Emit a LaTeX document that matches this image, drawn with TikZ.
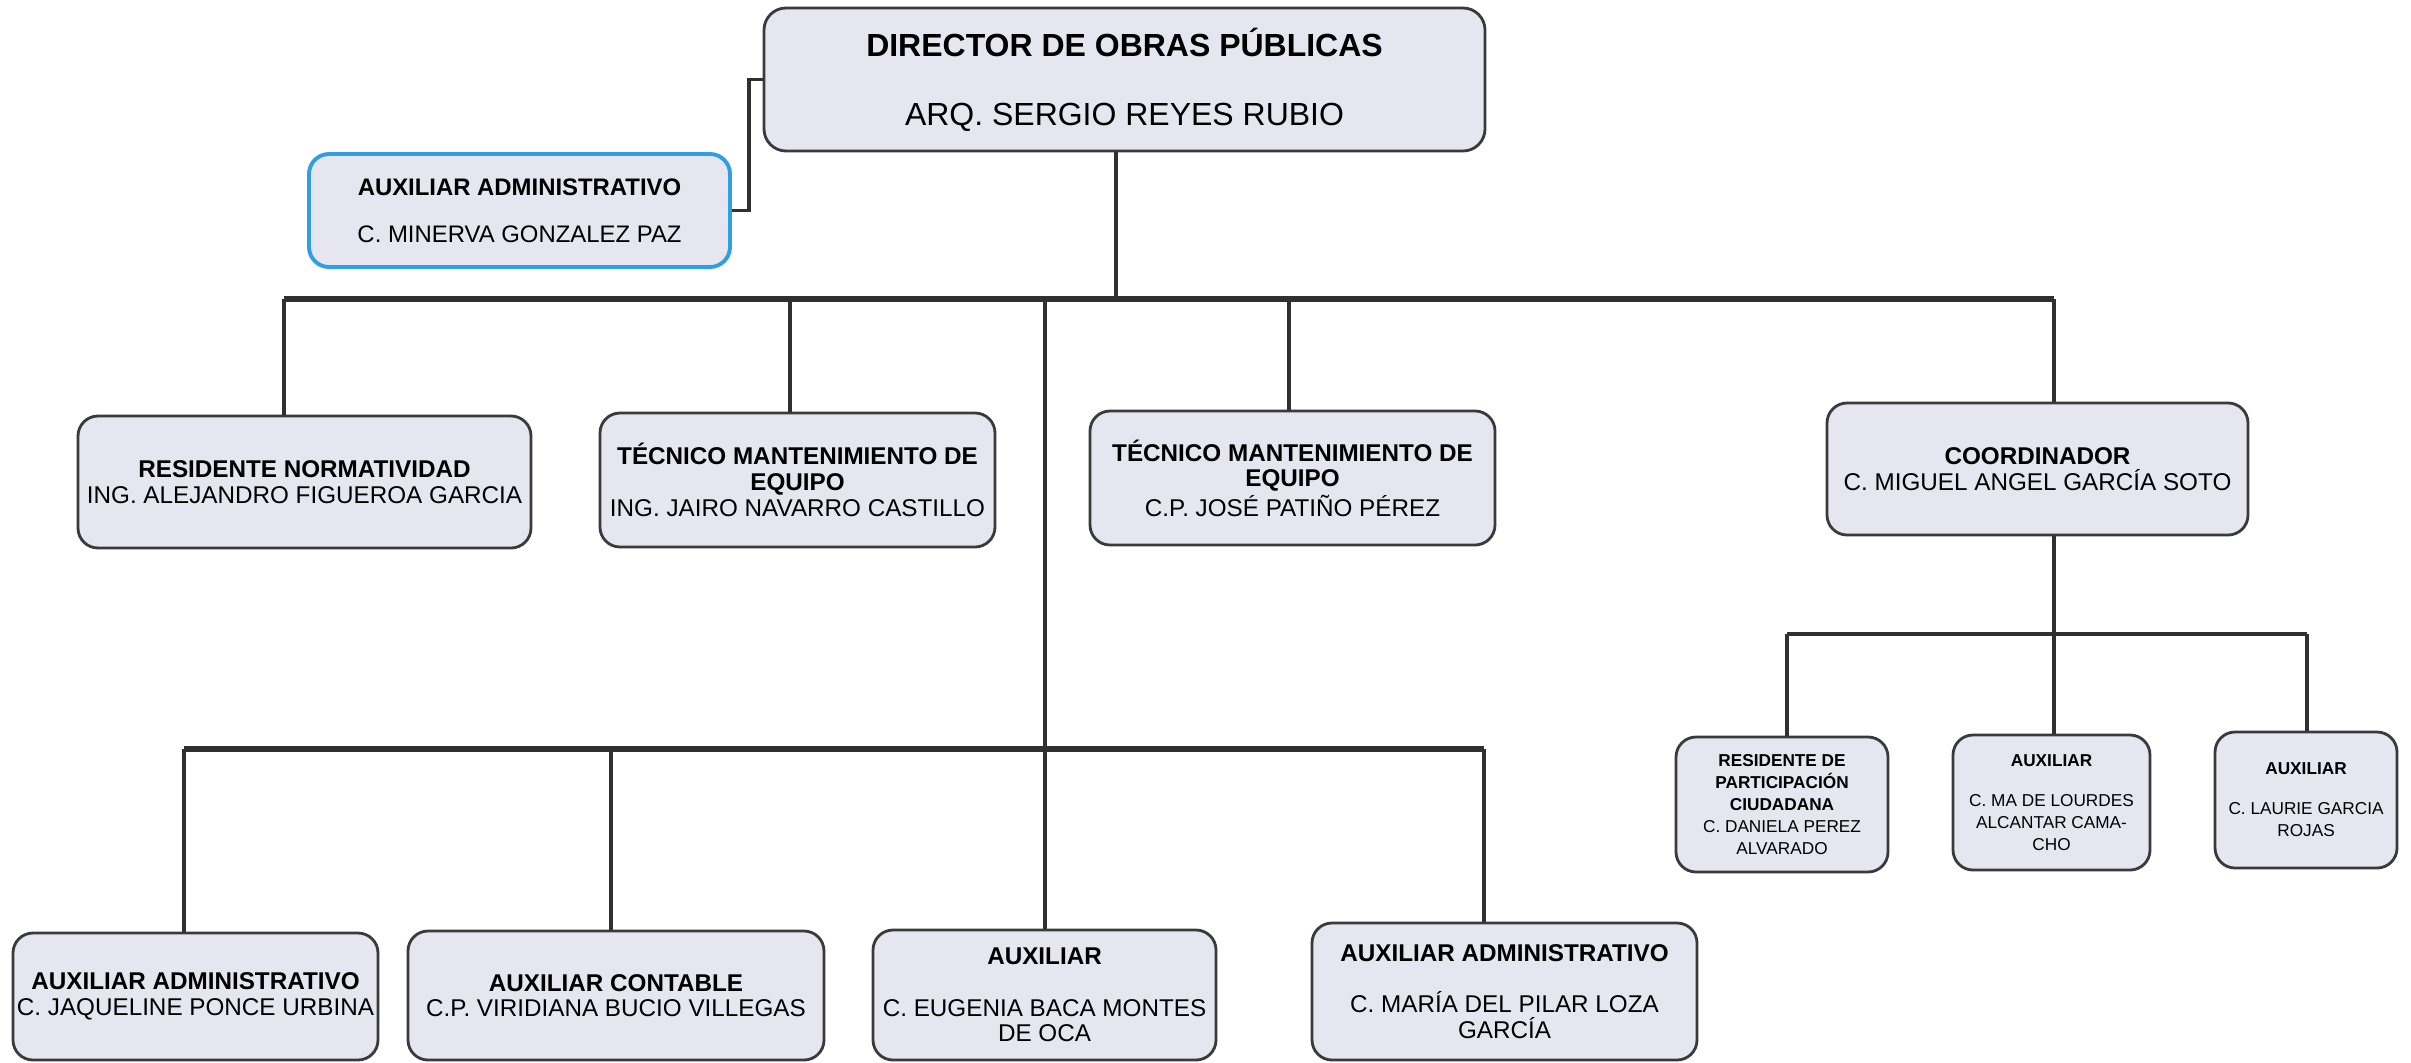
\documentclass[tikz,border=0pt]{standalone}
\usepackage{fontspec}
\setmainfont{Liberation Sans}
\definecolor{fondocaja}{HTML}{E6E6F0}
\definecolor{bordecaja}{HTML}{3A3A3A}
\definecolor{azulcaja}{HTML}{2E9FE3}
\definecolor{linea}{HTML}{303030}
\begin{document}
\begin{tikzpicture}[
  cargo/.style={draw=bordecaja,line width=0.8pt,fill=fondocaja,rounded corners=0.2cm,align=center,inner sep=1pt},
  letra/.style={font=\fontsize{6.9}{7.3}\selectfont},
  chica/.style={font=\fontsize{4.9}{6.3}\selectfont},
  bus/.style={linea,line width=1.6pt},
  rama/.style={linea,line width=0.9pt}]
\fill[white] (0,0) rectangle (24.11,-10.62);

\node[cargo,rounded corners=0.22cm,minimum width=7.21cm,minimum height=1.43cm,font=\fontsize{9.1}{19.6}\selectfont] (dir) at (11.245,-0.795)
  {\textbf{DIRECTOR DE OBRAS PÚBLICAS}\\ARQ. SERGIO REYES RUBIO};
\node[cargo,draw=azulcaja,line width=1.1pt,minimum width=4.21cm,minimum height=1.13cm,font=\fontsize{6.8}{13.4}\selectfont] (auxadm) at (5.195,-2.105)
  {\textbf{AUXILIAR ADMINISTRATIVO}\\C. MINERVA GONZALEZ PAZ};

\node[cargo,letra,minimum width=4.53cm,minimum height=1.32cm] (resnorm) at (3.045,-4.82)
  {\textbf{RESIDENTE NORMATIVIDAD}\\ING. ALEJANDRO FIGUEROA GARCIA};
\node[cargo,letra,minimum width=3.95cm,minimum height=1.34cm] (tecuno) at (7.975,-4.80)
  {\textbf{TÉCNICO MANTENIMIENTO DE}\\\textbf{EQUIPO}\\ING. JAIRO NAVARRO CASTILLO};
\node[cargo,letra,minimum width=4.05cm,minimum height=1.34cm] (tecdos) at (12.925,-4.78)
  {\textbf{TÉCNICO MANTENIMIENTO DE}\\\textbf{EQUIPO}\\C.P. JOSÉ PATIÑO PÉREZ};
\node[cargo,letra,minimum width=4.21cm,minimum height=1.32cm] (coord) at (20.375,-4.69)
  {\textbf{COORDINADOR}\\C. MIGUEL ANGEL GARCÍA SOTO};

\node[cargo,letra,minimum width=3.65cm,minimum height=1.27cm] (auxjaq) at (1.955,-9.965)
  {\textbf{AUXILIAR ADMINISTRATIVO}\\C. JAQUELINE PONCE URBINA};
\node[cargo,letra,minimum width=4.16cm,minimum height=1.29cm] (auxcont) at (6.16,-9.955)
  {\textbf{AUXILIAR CONTABLE}\\C.P. VIRIDIANA BUCIO VILLEGAS};
\node[cargo,letra,minimum width=3.43cm,minimum height=1.30cm] (auxeug) at (10.445,-9.95)
  {\textbf{AUXILIAR}\\[7.4pt]C. EUGENIA BACA MONTES\\DE OCA};
\node[cargo,letra,minimum width=3.85cm,minimum height=1.37cm] (auxmar) at (15.045,-9.915)
  {\textbf{AUXILIAR ADMINISTRATIVO}\\[7.4pt]C. MARÍA DEL PILAR LOZA\\GARCÍA};

\node[cargo,chica,minimum width=2.12cm,minimum height=1.35cm] (respart) at (17.82,-8.045)
  {\textbf{RESIDENTE DE}\\\textbf{PARTICIPACIÓN}\\\textbf{CIUDADANA}\\C. DANIELA PEREZ\\ALVARADO};
\node[cargo,chica,minimum width=1.97cm,minimum height=1.35cm] (auxlour) at (20.515,-8.025)
  {\textbf{AUXILIAR}\\[5.1pt]C. MA DE LOURDES\\ALCANTAR CAMA-\\CHO};
\node[cargo,chica,minimum width=1.82cm,minimum height=1.36cm] (auxlau) at (23.06,-8.0)
  {\textbf{AUXILIAR}\\[5.1pt]C. LAURIE GARCIA\\ROJAS};

% lineas de mando
\coordinate (bdir) at (11.16,-2.99);
\coordinate (bres) at (2.84,-2.99);
\coordinate (buno) at (7.90,-2.99);
\coordinate (baux) at (10.45,-2.99);
\coordinate (bdos) at (12.89,-2.99);
\coordinate (bcoo) at (20.54,-2.99);
\coordinate (cjaq) at (1.84,-7.49);
\coordinate (ccon) at (6.11,-7.49);
\coordinate (ceug) at (10.45,-7.49);
\coordinate (cmar) at (14.84,-7.49);
\coordinate (dres) at (17.87,-6.34);
\coordinate (dlou) at (20.54,-6.34);
\coordinate (dlau) at (23.07,-6.34);

\draw[rama] (auxadm.east) -- ++(0.17,0) |- (dir.west);
\draw[rama] (dir.south -| bdir) -- (bdir);
\draw[bus] (bres) -- (bcoo);
\draw[rama] (bres) -- (bres |- resnorm.north);
\draw[rama] (buno) -- (buno |- tecuno.north);
\draw[rama] (bdos) -- (bdos |- tecdos.north);
\draw[rama] (bcoo) -- (bcoo |- coord.north);
\draw[rama] (baux) -- (ceug);
\draw[bus] (cjaq) -- (cmar);
\draw[rama] (cjaq) -- (cjaq |- auxjaq.north);
\draw[rama] (ccon) -- (ccon |- auxcont.north);
\draw[rama] (ceug) -- (ceug |- auxeug.north);
\draw[rama] (cmar) -- (cmar |- auxmar.north);
\draw[rama] (coord.south -| dlou) -- (dlou);
\draw[bus,line width=1.1pt] (dres) -- (dlau);
\draw[rama] (dres) -- (dres |- respart.north);
\draw[rama] (dlou) -- (dlou |- auxlour.north);
\draw[rama] (dlau) -- (dlau |- auxlau.north);
\end{tikzpicture}
\end{document}
